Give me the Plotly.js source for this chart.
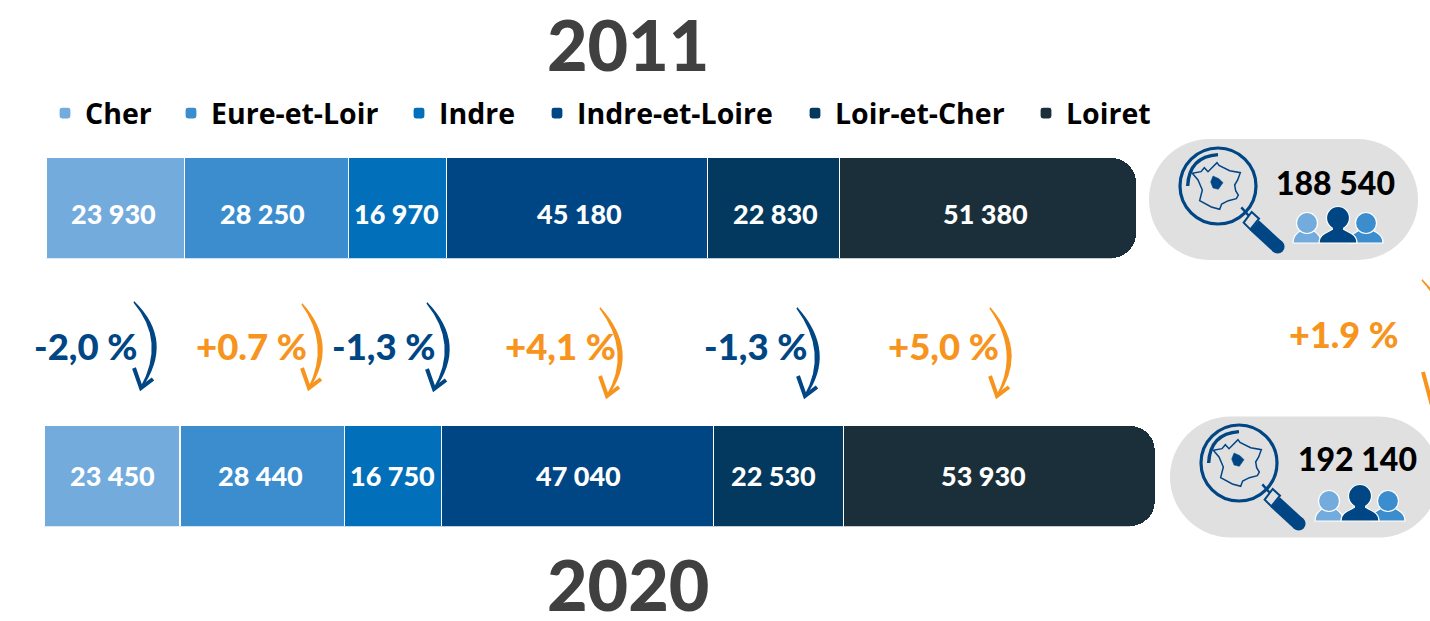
<!DOCTYPE html>
<html><head><meta charset="utf-8">
<script src="https://cdn.plot.ly/plotly-3.0.1.min.js"></script>
<style>html,body{margin:0;padding:0;background:#fff;overflow:hidden}#c{width:1430px;height:621px}</style>
</head><body><div id="c"></div>
<script>
const departments = ['Cher','Eure-et-Loir','Indre','Indre-et-Loire','Loir-et-Cher','Loiret'];
const values2011 = [23930,28250,16970,45180,22830,51380];
const values2020 = [23450,28440,16750,47040,22530,53930];
const colors = ['#73abdd','#3c8dce','#016fb9','#004685','#03395e','#1b2f3b'];
const evolutions = ['-2,0 %','+0.7 %','-1,3 %','+4,1 %','-1,3 %','+5,0 %'];
const totalEvolution = '+1.9 %';
const totals = ['188 540','192 140'];
const years = ['2011','2020'];

const W = 1430, H = 621, FONT = '"Open Sans", sans-serif', NUMFONT = 'Lato, "Open Sans", sans-serif';
const BLUE = '#004685', ORANGE = '#f7941d';
const PX_PER_UNIT = 5.782/1000;
const px = (x,y)=>[(x/W).toFixed(5),(1-y/H).toFixed(5)].join(',');
const pathShape = (d,opts)=>Object.assign({type:'path',xref:'paper',yref:'paper',path:d},opts);
const P = (pts,close)=>pts.map((p,i)=>(i?'L':'M')+px(p[0],p[1])).join(' ')+(close?' Z':'');
const circle = (cx,cy,r,fill,lineColor,lw)=>({type:'circle',xref:'paper',yref:'paper',
  x0:(cx-r)/W,x1:(cx+r)/W,y0:1-(cy+r)/H,y1:1-(cy-r)/H,fillcolor:fill,line:{color:lineColor,width:lw}});
const stroke=(c,w)=>({line:{color:c,width:w},fillcolor:'rgba(0,0,0,0)'});
const solid=(c)=>({line:{color:c,width:0.5},fillcolor:c});

function pill(x0,y0,x1,y1){
  const r=(y1-y0)/2,k=r*0.55;
  const d='M'+px(x0+r,y0)+' L'+px(x1-r,y0)+' C'+px(x1-r+k,y0)+' '+px(x1,y0+r-k)+' '+px(x1,y0+r)+
    ' C'+px(x1,y0+r+k)+' '+px(x1-r+k,y1)+' '+px(x1-r,y1)+' L'+px(x0+r,y1)+
    ' C'+px(x0+r-k,y1)+' '+px(x0,y0+r+k)+' '+px(x0,y0+r)+' C'+px(x0,y0+r-k)+' '+px(x0+r-k,y0)+' '+px(x0+r,y0)+' Z';
  return pathShape(d,{fillcolor:'#e0e0e0',line:{width:0}});
}
function arrow(sx,sy,mx,my,tx,ty,color,barb){
  const cx=2*mx-(sx+tx)/2, cy=2*my-(sy+ty)/2, w=3.4, b=barb||[-7,-20];
  const body='M'+px(sx,sy)+' Q'+px(cx+w,cy)+' '+px(tx,ty)+' Q'+px(cx-w,cy)+' '+px(sx,sy)+' Z';
  return [
    pathShape(body,{fillcolor:color,line:{color:color,width:1.6}}),
    pathShape(P([[tx+b[0],ty+b[1]],[tx,ty],[tx+12,ty-9]]),stroke(color,4))
  ];
}
const FRANCE=[[262,98],[268,106],[300,122],[332,128],[324,150],[315,165],[318,182],[326,195],[320,206],[296,212],[276,222],[270,238],[245,231],[210,212],[218,180],[205,150],[188,130],[214,125],[224,113],[235,125],[262,98]];
const REGION=[[250,138],[268,146],[280,158],[266,178],[250,174],[243,156]];
function icon(cx,cy){
  const z=p=>[cx+(p[0]-265)/3,cy+(p[1]-168)/3];
  const s=[];
  s.push(circle(cx,cy,38,'rgba(0,0,0,0)',BLUE,3.2));
  const a=z([174,168]),b=z([265,74]),ctl=z([178,80]);
  s.push(pathShape('M'+px(a[0],a[1])+' Q'+px(ctl[0],ctl[1])+' '+px(b[0],b[1]),stroke(BLUE,3.4)));
  s.push(pathShape(P(FRANCE.map(z),true),stroke(BLUE,1.5)));
  s.push(pathShape(P(REGION.map(z),true),solid(BLUE)));
  s.push(pathShape(P([z([335,232]),z([358,258])]),stroke(BLUE,2.5)));
  s.push(pathShape(P([z([342,278]),z([366,246]),z([388,266]),z([362,298])],true),{fillcolor:'#e0e0e0',line:{color:BLUE,width:2}}));
  s.push(pathShape(P([z([374,286]),z([444,350])]),stroke(BLUE,13.5)));
  const e=z([444,350]); s.push(circle(e[0],e[1],6.9,BLUE,BLUE,0));
  return s;
}
function person(cx,head,r,half,base,color){
  const d='M'+px(cx-half,base)+' C'+px(cx-half,base-9)+' '+px(cx-half*0.6,base-10)+' '+px(cx-5,base-14)+
          ' L'+px(cx+5,base-14)+' C'+px(cx+half*0.6,base-10)+' '+px(cx+half,base-9)+' '+px(cx+half,base)+' Z';
  return [pathShape(d,{fillcolor:color,line:{color:'#fff',width:1.2}}),circle(cx,head,r,color,'#fff',1.2),
    pathShape(P([[cx-5,head+r-4],[cx+5,head+r-4],[cx+5,base-12],[cx-5,base-12]],true),{fillcolor:color,line:{width:0}})];
}
function people(dx,dy){
  return [].concat(
    person(1307+dx,223+dy,10.5,14,243+dy,colors[0]),
    person(1366+dx,223+dy,10.5,17,243+dy,colors[1]),
    person(1338+dx,218+dy,11.5,19,243+dy,BLUE));
}

const traces=[];
departments.forEach((d,i)=>{
  [values2011,values2020].forEach((vals,row)=>{
    traces.push({type:'bar',orientation:'h',name:d,x:[vals[i]],y:[years[row]],
      xaxis:row?'x2':'x',yaxis:row?'y2':'y',width:1,showlegend:row===0,legend:'legend'+(i?i+1:''),
      marker:{color:colors[i],line:{color:'#fff',width:1.2},cornerradius:25},
      textposition:'none',hoverinfo:'skip'});
  });
});

const xr=start=>[-start/PX_PER_UNIT,(W-start)/PX_PER_UNIT];
const hidden={visible:false,fixedrange:true};
const labelX=[85,251,383,560,755,943];
const ann=(t,x,y,size,color,extra)=>Object.assign({text:t,xref:'paper',yref:'paper',x:x/W,y:1-y/H,xanchor:'center',yanchor:'middle',showarrow:false,
  font:{family:NUMFONT,size:size,color:color,weight:900}},extra||{});
const fmt=v=>String(v).replace(/\B(?=(\d{3})+$)/g,' ');
const barLabelShift=[[-2,-4,-1,3,2,-3],[0,-2,0,1,-5,-16]];
const barLabelY=[214,475.5];
const barLabels=[];
[values2011,values2020].forEach((vals,row)=>{
  let cum=0;
  vals.forEach((v,i)=>{
    barLabels.push(ann(fmt(v),0,barLabelY[row],27,'#fff',{xref:row?'x2':'x',x:cum+v/2,xshift:barLabelShift[row][i]}));
    cum+=v;
  });
});
const annotations=[
  ann(years[0],628,44,70,'#404040'),
  ann(years[1],628,584,70,'#404040'),
  ann(totals[0],1335,183,32,'#000'),
  ann(totals[1],1357,459,32,'#000'),
  ann(totalEvolution,1344,333.5,36,ORANGE)
].concat(evolutions.map((t,i)=>ann(t,labelX[i],345.5,36.5,t[0]==='-'?BLUE:ORANGE)),barLabels);

const shapes=[].concat(
  [pill(1149,139,1418,260),pill(1170,416.5,1439,537.5)],
  icon(1218,186),icon(1239,463),people(0,0),people(22,278),
  arrow(134,302,154,343,141,388,BLUE),
  arrow(302,304,320,345,309,388,ORANGE),
  arrow(427,303,447,345,434,389,BLUE),
  arrow(600,308,620,352,607,396,ORANGE),
  arrow(797,308,817,352,805,396,BLUE),
  arrow(990,308,1009,352,997,396,ORANGE),
  arrow(1422,280,1452,340,1431,402,ORANGE,[-8,-30])
);

const legendSwatchX=[61,187,415,553,811,1042];
const layout={width:W,height:H,margin:{l:0,r:0,t:0,b:0,pad:0},paper_bgcolor:'#fff',plot_bgcolor:'rgba(0,0,0,0)',
  barmode:'stack',barcornerradius:25,showlegend:true,hovermode:false,
  xaxis:Object.assign({range:xr(46.4),domain:[0,1],anchor:'y'},hidden),
  xaxis2:Object.assign({range:xr(44.4),domain:[0,1],anchor:'y2'},hidden),
  yaxis:Object.assign({type:'category',range:[-0.5,0.5],domain:[1-258.5/H,1-157.5/H],anchor:'x'},hidden),
  yaxis2:Object.assign({type:'category',range:[-0.5,0.5],domain:[1-526.5/H,1-425.5/H],anchor:'x2'},hidden),
  annotations:annotations,shapes:shapes};
departments.forEach((d,i)=>{
  layout['legend'+(i?i+1:'')]={orientation:'h',x:(legendSwatchX[i]-16)/W,xanchor:'left',y:1-88/H,yanchor:'top',
    font:{family:FONT,size:28.5,color:'#000',weight:700},bgcolor:'rgba(0,0,0,0)',itemclick:false,itemdoubleclick:false};
});
Plotly.newPlot('c',traces,layout,{displayModeBar:false,staticPlot:true});
</script></body></html>
